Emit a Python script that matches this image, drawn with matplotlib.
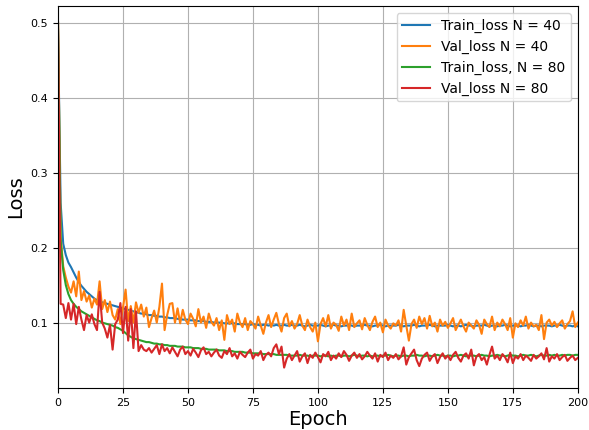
import matplotlib
matplotlib.use("Agg")
import matplotlib.pyplot as plt
import numpy as np

epochs = np.arange(201)

train_40 = [
    0.490, 0.260, 0.205, 0.190, 0.180, 0.174, 0.167, 0.160, 0.154, 0.149,
    0.145, 0.141, 0.138, 0.135, 0.132, 0.130, 0.128, 0.127, 0.126, 0.125,
    0.124, 0.123, 0.122, 0.121, 0.120, 0.119, 0.118, 0.117, 0.116, 0.115,
    0.114, 0.113, 0.112, 0.112, 0.111, 0.110, 0.110, 0.109, 0.109, 0.108,
    0.108, 0.107, 0.107, 0.106, 0.106, 0.106, 0.105, 0.105, 0.104, 0.104,
    0.104, 0.103, 0.103, 0.103, 0.102, 0.102, 0.102, 0.101, 0.101, 0.101,
    0.100, 0.100, 0.100, 0.100, 0.099, 0.099, 0.099, 0.099, 0.099, 0.098,
    0.098, 0.098, 0.098, 0.097, 0.097, 0.098, 0.097, 0.097, 0.096, 0.097,
    0.097, 0.096, 0.097, 0.096, 0.097, 0.096, 0.096, 0.097, 0.096, 0.096,
    0.097, 0.096, 0.096, 0.097, 0.096, 0.095, 0.096, 0.097, 0.096, 0.096,
    0.096, 0.097, 0.096, 0.095, 0.096, 0.096, 0.097, 0.096, 0.096, 0.095,
    0.096, 0.096, 0.097, 0.096, 0.095, 0.096, 0.096, 0.096, 0.097, 0.096,
    0.096, 0.095, 0.096, 0.096, 0.097, 0.096, 0.095, 0.096, 0.096, 0.096,
    0.096, 0.097, 0.096, 0.095, 0.096, 0.096, 0.096, 0.097, 0.096, 0.095,
    0.096, 0.096, 0.096, 0.097, 0.096, 0.095, 0.096, 0.096, 0.096, 0.096,
    0.097, 0.096, 0.095, 0.096, 0.096, 0.095, 0.096, 0.097, 0.096, 0.096,
    0.095, 0.096, 0.096, 0.096, 0.097, 0.096, 0.095, 0.096, 0.096, 0.095,
    0.096, 0.096, 0.097, 0.096, 0.095, 0.096, 0.096, 0.096, 0.095, 0.096,
    0.096, 0.097, 0.096, 0.095, 0.096, 0.096, 0.095, 0.096, 0.096, 0.096,
    0.095, 0.096, 0.096, 0.097, 0.096, 0.095, 0.096, 0.096, 0.095, 0.096,
    0.095,
]

val_40 = [
    0.500, 0.215, 0.175, 0.160, 0.148, 0.140, 0.155, 0.135, 0.168, 0.130,
    0.142, 0.128, 0.136, 0.120, 0.132, 0.124, 0.155, 0.118, 0.130, 0.114,
    0.128, 0.110, 0.104, 0.118, 0.098, 0.120, 0.144, 0.102, 0.122, 0.100,
    0.127, 0.113, 0.124, 0.108, 0.120, 0.094, 0.106, 0.116, 0.100, 0.121,
    0.152, 0.090, 0.110, 0.125, 0.126, 0.100, 0.119, 0.099, 0.117, 0.104,
    0.098, 0.112, 0.105, 0.095, 0.118, 0.100, 0.108, 0.093, 0.112, 0.101,
    0.096, 0.106, 0.090, 0.103, 0.077, 0.110, 0.098, 0.104, 0.088, 0.112,
    0.100, 0.094, 0.106, 0.090, 0.102, 0.098, 0.092, 0.108, 0.096, 0.085,
    0.100, 0.110, 0.094, 0.104, 0.113, 0.098, 0.088, 0.106, 0.112, 0.095,
    0.102, 0.092, 0.098, 0.110, 0.096, 0.090, 0.104, 0.094, 0.088, 0.100,
    0.075, 0.098, 0.106, 0.095, 0.110, 0.092, 0.100, 0.097, 0.089, 0.108,
    0.096, 0.104, 0.090, 0.112, 0.094, 0.099, 0.103, 0.091, 0.106, 0.097,
    0.090, 0.101, 0.108, 0.094, 0.100, 0.087, 0.104, 0.096, 0.092, 0.099,
    0.096, 0.103, 0.088, 0.117, 0.096, 0.076, 0.098, 0.104, 0.093, 0.108,
    0.098, 0.106, 0.092, 0.109, 0.095, 0.100, 0.088, 0.104, 0.096, 0.101,
    0.093, 0.099, 0.106, 0.090, 0.097, 0.104, 0.095, 0.088, 0.100, 0.096,
    0.092, 0.103, 0.097, 0.085, 0.104, 0.098, 0.094, 0.108, 0.090, 0.100,
    0.095, 0.104, 0.098, 0.090, 0.106, 0.080, 0.099, 0.094, 0.103, 0.096,
    0.108, 0.092, 0.100, 0.095, 0.097, 0.090, 0.110, 0.078, 0.100, 0.104,
    0.096, 0.101, 0.094, 0.099, 0.103, 0.092, 0.098, 0.102, 0.115, 0.094,
    0.100,
]

train_80 = [
    0.500, 0.210, 0.170, 0.150, 0.138, 0.130, 0.125, 0.121, 0.118, 0.115,
    0.113, 0.111, 0.109, 0.107, 0.105, 0.103, 0.102, 0.100, 0.099, 0.098,
    0.097, 0.096, 0.094, 0.093, 0.091, 0.089, 0.086, 0.083, 0.081, 0.079,
    0.078, 0.077, 0.076, 0.075, 0.074, 0.074, 0.073, 0.072, 0.072, 0.071,
    0.071, 0.070, 0.070, 0.069, 0.069, 0.069, 0.068, 0.068, 0.068, 0.067,
    0.067, 0.067, 0.066, 0.066, 0.066, 0.065, 0.065, 0.065, 0.064, 0.064,
    0.064, 0.064, 0.063, 0.063, 0.063, 0.062, 0.062, 0.062, 0.061, 0.061,
    0.061, 0.061, 0.060, 0.060, 0.060, 0.059, 0.059, 0.059, 0.059, 0.058,
    0.058, 0.058, 0.058, 0.058, 0.057, 0.057, 0.057, 0.057, 0.057, 0.056,
    0.056, 0.056, 0.056, 0.057, 0.056, 0.056, 0.056, 0.055, 0.056, 0.056,
    0.056, 0.055, 0.056, 0.056, 0.055, 0.056, 0.055, 0.056, 0.056, 0.055,
    0.056, 0.056, 0.055, 0.056, 0.057, 0.056, 0.055, 0.056, 0.056, 0.055,
    0.056, 0.055, 0.056, 0.056, 0.055, 0.056, 0.056, 0.057, 0.056, 0.055,
    0.056, 0.056, 0.055, 0.056, 0.056, 0.055, 0.056, 0.056, 0.057, 0.056,
    0.056, 0.055, 0.056, 0.056, 0.055, 0.056, 0.057, 0.056, 0.056, 0.055,
    0.056, 0.056, 0.055, 0.056, 0.056, 0.057, 0.056, 0.055, 0.056, 0.056,
    0.056, 0.055, 0.056, 0.057, 0.056, 0.056, 0.055, 0.056, 0.056, 0.057,
    0.056, 0.056, 0.055, 0.056, 0.057, 0.056, 0.056, 0.055, 0.056, 0.057,
    0.056, 0.056, 0.057, 0.056, 0.055, 0.056, 0.057, 0.056, 0.056, 0.057,
    0.056, 0.057, 0.056, 0.056, 0.057, 0.056, 0.057, 0.057, 0.056, 0.057,
    0.057,
]

val_80 = [
    0.500, 0.125, 0.124, 0.106, 0.126, 0.104, 0.125, 0.098, 0.121, 0.104,
    0.090, 0.110, 0.100, 0.111, 0.098, 0.090, 0.141, 0.100, 0.092, 0.080,
    0.097, 0.064, 0.098, 0.104, 0.126, 0.086, 0.121, 0.076, 0.118, 0.066,
    0.115, 0.062, 0.070, 0.064, 0.062, 0.066, 0.060, 0.065, 0.070, 0.058,
    0.071, 0.062, 0.066, 0.059, 0.067, 0.061, 0.055, 0.064, 0.068, 0.058,
    0.062, 0.056, 0.065, 0.060, 0.054, 0.063, 0.067, 0.058, 0.061, 0.055,
    0.060, 0.064, 0.056, 0.053, 0.062, 0.058, 0.066, 0.055, 0.059, 0.052,
    0.061, 0.057, 0.054, 0.060, 0.064, 0.052, 0.058, 0.056, 0.062, 0.050,
    0.057, 0.060, 0.055, 0.066, 0.071, 0.058, 0.068, 0.040, 0.052, 0.058,
    0.050, 0.056, 0.062, 0.048, 0.055, 0.059, 0.046, 0.057, 0.053, 0.060,
    0.054, 0.047, 0.058, 0.055, 0.061, 0.050, 0.056, 0.052, 0.059, 0.054,
    0.062, 0.057, 0.049, 0.056, 0.060, 0.053, 0.058, 0.051, 0.055, 0.061,
    0.056, 0.052, 0.059, 0.048, 0.057, 0.054, 0.060, 0.050, 0.056, 0.053,
    0.058, 0.051, 0.055, 0.067, 0.044, 0.054, 0.059, 0.064, 0.050, 0.042,
    0.052, 0.057, 0.060, 0.049, 0.055, 0.058, 0.046, 0.054, 0.059, 0.052,
    0.056, 0.050, 0.057, 0.061, 0.053, 0.048, 0.056, 0.059, 0.052, 0.064,
    0.043, 0.055, 0.058, 0.050, 0.054, 0.044, 0.057, 0.068, 0.052, 0.056,
    0.050, 0.058, 0.054, 0.047, 0.060, 0.046, 0.055, 0.052, 0.058, 0.050,
    0.056, 0.053, 0.049, 0.057, 0.052, 0.055, 0.059, 0.051, 0.066, 0.048,
    0.055, 0.052, 0.058, 0.050, 0.054, 0.057, 0.049, 0.053, 0.056, 0.050,
    0.053,
]

fig, ax = plt.subplots(figsize=(5.89, 4.30), dpi=100)

ax.plot(epochs, train_40, label="Train_loss N = 40")
ax.plot(epochs, val_40, label="Val_loss N = 40")
ax.plot(epochs, train_80, label="Train_loss, N = 80")
ax.plot(epochs, val_80, label="Val_loss N = 80")

ax.set_xlim(0, 200)
ax.set_ylim(0.013, 0.522)
ax.set_xlabel("Epoch", fontsize=14, labelpad=2)
ax.set_ylabel("Loss", fontsize=14)
ax.tick_params(labelsize=8)
ax.grid(True)
ax.legend(loc="upper right", fontsize=10)

fig.subplots_adjust(left=0.0985, right=0.981, top=0.986, bottom=0.098)
fig.savefig("out.png")
